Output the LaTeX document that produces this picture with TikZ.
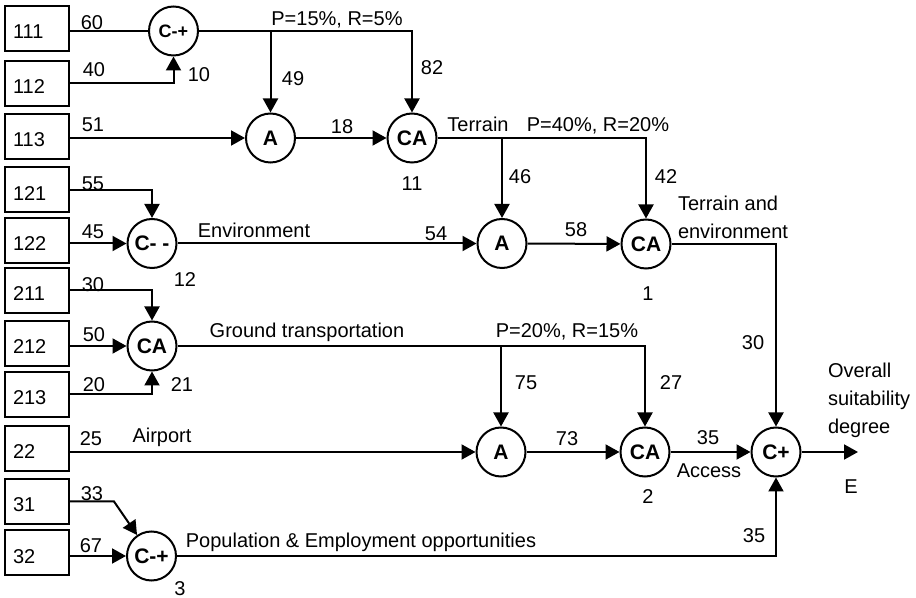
\documentclass[tikz,border=0pt]{standalone}
\usepackage{fontspec}
\setmainfont{Liberation Sans}
\usetikzlibrary{arrows.meta}
\usetikzlibrary{positioning}

\begin{document}
\begin{tikzpicture}[x=0.5pt, y=-0.5pt, line width=1pt,
    >={Triangle[length=7pt, width=7.5pt]},
    leaf/.style={draw, rectangle, minimum width=32pt, minimum height=22.5pt, text width=24pt, align=left, inner xsep=4pt, text height=10.5pt, text depth=0pt},
    op/.style={draw, circle, minimum size=24.5pt, inner sep=0pt, font=\fontsize{10.5}{12}\selectfont\bfseries},
    lbl/.style={inner sep=0pt, text height=7.2pt, text depth=0pt},
    note/.style={inner sep=0pt, anchor=north west, align=left, font=\fontsize{10}{13.9}\selectfont}]

  \useasboundingbox (0,0) rectangle (916,598);

  % Define nodes
  \node[leaf] (b111) at (37,28.5) {111};
  \node[leaf] (b112) at (37,83.5) {112};
  \node[leaf] (b113) at (37,136.5) {113};
  \node[leaf] (b121) at (37,190) {121};
  \node[leaf] (b122) at (37,240.5) {122};
  \node[leaf] (b211) at (37,290.5) {211};
  \node[leaf] (b212) at (37,343.5) {212};
  \node[leaf] (b213) at (37,394.5) {213};
  \node[leaf] (b22) at (37,448.5) {22};
  \node[leaf] (b31) at (37,501.5) {31};
  \node[leaf] (b32) at (37,552.5) {32};

  \node[op, font=\small\bfseries] (c10) at (173.5,31) {C-+};
  \node[op] (a11) at (270.5,138) {A};
  \node[op] (ca11) at (412,138) {CA};
  \node[op] (c12) at (152,243.5) {C- -};
  \node[op] (a1) at (502,243.5) {A};
  \node[op] (ca1) at (646,244) {CA};
  \node[op] (ca21) at (152,346) {CA};
  \node[op] (a2) at (501,452) {A};
  \node[op] (ca2) at (645,452) {CA};
  \node[op] (cplus) at (776,452) {C+};
  \node[op] (c3) at (151.5,556) {C-+};
  \coordinate (E) at (858,452);

  % Weights and names
  \node[lbl] (w60) at (92,22) {60};
  \node[lbl] (w40) at (94,69) {40};
  \node[lbl] (n10) at (199,74) {10};
  \node[lbl] (pr11) at (337,18) {P=15\%, R=5\%};
  \node[lbl] (w49) at (293,78) {49};
  \node[lbl] (w82) at (432,67) {82};
  \node[lbl] (w51) at (93,124) {51};
  \node[lbl] (w18) at (342,126) {18};
  \node[lbl] (n11) at (412,183) {11};
  \node[lbl] (terrain) at (478,124) {Terrain};
  \node[lbl] (pr1) at (598,124) {P=40\%, R=20\%};
  \node[lbl] (w46) at (520,176) {46};
  \node[lbl] (w42) at (666,176) {42};
  \node[lbl] (w55) at (93,183) {55};
  \node[lbl] (w45) at (93,231) {45};
  \node[lbl] (env) at (254,230) {Environment};
  \node[lbl] (n12) at (185,279) {12};
  \node[lbl] (w54) at (436,233) {54};
  \node[lbl] (w58) at (576,229) {58};
  \node[lbl] (n1) at (648,293) {1};
  \node[note] (terenv) at (677,195) {Terrain and\\environment};
  \node[lbl] (w30) at (93,284) {30};
  \node[lbl] (w50) at (94,334) {50};
  \node[lbl] (w20) at (94,384) {20};
  \node[lbl] (n21) at (182,384) {21};
  \node[lbl] (ground) at (307,330) {Ground transportation};
  \node[lbl] (pr2) at (567,330) {P=20\%, R=15\%};
  \node[lbl] (w75) at (526,382) {75};
  \node[lbl] (w27) at (671,382) {27};
  \node[lbl] (w30b) at (753,342) {30};
  \node[lbl] (w25) at (91,438) {25};
  \node[lbl] (airport) at (162,435) {Airport};
  \node[lbl] (w73) at (567,438) {73};
  \node[lbl] (w35) at (708,437) {35};
  \node[lbl] (access) at (709,470) {Access};
  \node[lbl] (n2) at (648,496) {2};
  \node[note] (overall) at (827,362) {Overall\\suitability\\degree};
  \node[lbl] (nE) at (851,486) {E};
  \node[lbl] (w33) at (92,493) {33};
  \node[lbl] (w67) at (91,545) {67};
  \node[lbl] (n3) at (180,588) {3};
  \node[lbl] (popul) at (361,540) {Population \& Employment opportunities};
  \node[lbl] (w35b) at (754,535) {35};

  % Connect the nodes
  \draw (b111.east |- c10.west) -- (c10.west);
  \draw[->] (b112.east) -| (c10.south);
  \draw[->] (c10.east) -| (ca11.north);
  \draw[->] (a11.north |- c10.east) -- (a11.north);
  \draw[->] (b113.east |- a11.west) -- (a11.west);
  \draw[->] (a11) -- (ca11);
  \draw[->] (ca11.east) -| (ca1.north);
  \draw[->] (a1.north |- ca11.east) -- (a1.north);
  \draw[->] (b121.east) -| (c12.north);
  \draw[->] (b122.east |- c12.west) -- (c12.west);
  \draw[->] (c12) -- (a1);
  \draw[->] (a1) -- (ca1);
  \draw[->] (ca1.east) -| (cplus.north);
  \draw[->] (b211.east) -| (ca21.north);
  \draw[->] (b212.east |- ca21.west) -- (ca21.west);
  \draw[->] (b213.east) -| (ca21.south);
  \draw[->] (ca21.east) -| (ca2.north);
  \draw[->] (a2.north |- ca21.east) -- (a2.north);
  \draw[->] (b22.east |- a2.west) -- (a2.west);
  \draw[->] (a2) -- (ca2);
  \draw[->] (ca2) -- (cplus);
  \draw[->] (b31.east) -- ++(44,0) -- (c3);
  \draw[->] (b32.east |- c3.west) -- (c3.west);
  \draw[->] (c3.east) -| (cplus.south);
  \draw[->] (cplus) -- (E);

\end{tikzpicture}
\end{document}
